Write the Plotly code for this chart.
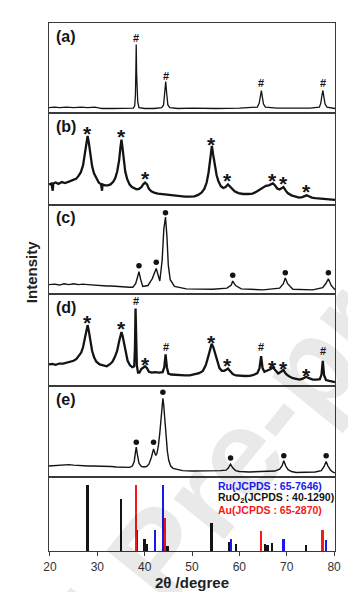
import plotly.graph_objects as go
from plotly.subplots import make_subplots

# ---------------- data (2theta in degree, intensity in % of panel height) ----------------
a_x = [19.8, 21, 22, 23.5, 25, 26.5, 28, 29.5, 30.5, 31, 33, 35, 36.5, 37.6, 37.9, 38.05, 38.15, 38.22, 38.3, 38.4, 38.55, 38.8,
       40, 42, 43.6, 44.0, 44.25, 44.45, 44.65, 44.9, 45.3, 47, 50, 55, 60, 63.8, 64.2, 64.45, 64.65, 64.85, 65.1, 65.5,
       68, 72, 75, 76.9, 77.2, 77.45, 77.65, 77.85, 78.1, 78.5, 80.2]
a_y = [6, 6.5, 6, 6.5, 6, 6.5, 6, 6.5, 5.5, 5, 5, 5.5, 5.5, 5.5, 8, 20, 48, 76, 45, 30, 12, 6,
       5, 5, 6, 9, 22, 35, 22, 9, 6, 5, 5.5, 5, 5.5, 6.5, 11, 20, 25, 18, 10, 6.5,
       5.5, 5.5, 5.5, 6.5, 11, 20, 25, 18, 10, 6.5, 5]
a_hash_x = [38.2, 44.45, 64.65, 77.65]
a_hash_y = [83, 41, 33.5, 33]

b_x = [19.8, 20.3, 20.6, 20.7, 21.2, 21.8, 22.5, 23.2, 24.0, 24.8, 25.5, 26.0, 26.5, 27.0, 27.4, 27.7, 27.95, 28.2, 28.5,
       28.9, 29.3, 29.8, 30.3, 30.8, 31.0, 31.1, 31.6, 32.2, 32.8, 33.4, 33.8, 34.2, 34.6, 34.9, 35.1, 35.3, 35.6, 35.9,
       36.3, 36.8, 37.3, 37.8, 38.3, 38.8, 39.3, 39.7, 40.1, 40.5, 40.9, 41.4, 42.0, 42.8, 43.6, 44.5, 45.5, 46.5, 47.5,
       48.5, 49.5, 50.5, 51.3, 52.0, 52.6, 53.1, 53.5, 53.8, 54.05, 54.2, 54.45, 54.8, 55.2, 55.6, 56.1, 56.6, 57.1, 57.6,
       58.0, 58.4, 59.0, 59.8, 60.8, 61.8, 62.8, 63.6, 64.3, 65.0, 65.6, 66.2, 66.8, 67.1, 67.5, 68.0, 68.5, 69.0, 69.3,
       69.7, 70.2, 71.0, 71.8, 72.6, 73.3, 73.8, 74.2, 74.7, 75.3, 76.0, 77.0, 78.0, 79.0, 80.2]
b_y = [22, 23, 15, 23, 24, 22.5, 24.5, 23.5, 25, 27, 28, 31, 35, 43, 55, 68, 75, 68, 55,
       42, 34, 28, 24, 22, 15, 22, 21, 21, 22, 25, 29, 36, 48, 63, 71, 63, 48, 36,
       28, 22, 19, 17.5, 16.5, 17, 19, 22, 24, 22, 17, 14.5, 13, 12, 11.5, 10.5, 10, 9.5, 9,
       8.5, 8.5, 9, 10.5, 13, 17, 24, 35, 48, 60, 64, 55, 42, 32, 25, 20, 18, 19, 22,
       20, 17, 14.5, 12.5, 11.5, 11.5, 12, 14, 16.5, 19, 20.5, 21, 22, 23, 21, 17.5, 16.5, 18, 19,
       16, 12.5, 10, 8.5, 7.5, 8, 9.5, 10, 9, 7.5, 7, 6.5, 6, 5.5, 5]
b_star_x = [27.95, 35.1, 40.1, 54.2, 57.6, 67.1, 69.3, 74.2]
b_star_y = [82.6, 80, 34.4, 71.5, 31.9, 31.5, 28, 19.6]

c_x = [19.8, 21, 22, 23, 24, 25, 26, 27, 28, 29, 30, 31, 32, 33, 34, 35, 36, 36.8, 37.5, 38.1, 38.5, 38.8, 39.1, 39.6,
       40.7, 41.6, 42.45, 42.9, 43.2, 43.7, 44.05, 44.4, 44.7, 45.0, 45.4, 46.3, 48.8, 54.4, 57.4, 58.3, 58.6, 59.2, 60.4,
       65.0, 68.5, 69.3, 69.7, 70.2, 71.3, 75.5, 77.6, 78.3, 78.8, 79.4, 80.2]
c_y = [10.5, 11, 10, 11.5, 10.5, 11.5, 10.5, 11, 10.5, 10, 10, 9.5, 9, 9, 8.5, 8, 7.5, 7.5, 7.6, 11.5, 19, 25, 17.5, 8.4,
       9.5, 17, 28.6, 19, 14.5, 38, 72.5, 86, 65, 32, 16, 8.4, 5.7, 5.3, 6.5, 10, 14.5, 9.5, 5.7,
       4.6, 6.5, 11.5, 18, 11.5, 5.3, 4.6, 7, 12, 17, 9.5, 4.6]
c_dot_x = [38.8, 42.45, 44.4, 58.6, 69.7, 78.8]
c_dot_y = [31.7, 35.5, 90.8, 21, 23.7, 23.7]

d_x = [19.8, 20.5, 21.2, 22.0, 22.8, 23.5, 24.3, 25.0, 25.6, 26.1, 26.6, 27.0, 27.4, 27.7, 27.95, 28.2, 28.5, 28.9, 29.3,
       29.8, 30.5, 31.2, 32.0, 32.6, 33.2, 33.7, 34.2, 34.6, 34.9, 35.1, 35.35, 35.7, 36.0, 36.4, 36.9, 37.4, 37.8, 37.95,
       38.08, 38.2, 38.35, 38.6, 38.9, 39.3, 39.7, 40.1, 40.5, 40.9, 41.5, 42.2, 43.0, 43.8, 44.15, 44.42, 44.7, 45.0,
       45.6, 46.5, 47.5, 48.5, 49.5, 50.5, 51.5, 52.3, 52.9, 53.4, 53.8, 54.15, 54.5, 54.9, 55.3, 55.8, 56.3, 56.8, 57.3,
       57.6, 58.0, 58.6, 59.3, 60.2, 61.2, 62.2, 63.0, 63.8, 64.25, 64.6, 64.9, 65.3, 65.8, 66.4, 67.1, 67.6, 68.2, 68.8,
       69.3, 69.8, 70.5, 71.3, 72.0, 72.7, 73.4, 74.1, 74.7, 75.5, 76.3, 77.0, 77.35, 77.62, 77.9, 78.3, 79.0, 79.6, 80.2]
d_y = [23, 23.5, 22.5, 24, 24, 25, 25.5, 27, 29, 32, 36, 42, 52, 61, 66, 60, 50, 38, 31,
       26, 23, 22, 21, 23, 26, 31, 38, 48, 56, 58.5, 54, 44, 34, 27, 22, 20, 21, 40,
       84, 50, 22, 14, 14, 18, 20, 21, 19, 15, 14, 14.5, 14, 14.5, 20, 34, 20, 13,
       12, 11.5, 11, 11, 11, 12, 13.5, 16, 22, 31, 40, 45.5, 42, 34, 26, 19, 16, 16, 17.5,
       18.5, 16, 12.5, 11, 10.5, 10.4, 10.5, 11.5, 13.5, 19, 32, 19, 15, 16, 17.5, 19.6, 16, 13, 15,
       17, 13, 10, 8, 7, 6.5, 7.5, 9.6, 8, 6.5, 6.5, 7, 12, 27, 11, 6, 5, 4.5, 3.7]
d_star_x = [27.95, 35.1, 40.1, 54.15, 57.6, 67.1, 69.3, 74.1]
d_star_y = [74, 67.8, 28.9, 53, 27, 25.2, 24, 16]
d_hash_x = [38.08, 44.42, 64.6, 77.62]
d_hash_y = [92.6, 41.9, 41.9, 38.1]

e_x = [19.8, 21, 22, 23, 24, 25, 26, 27, 28, 29, 30, 31, 32, 33, 34, 35, 36, 36.8, 37.4, 37.8, 38.05, 38.23, 38.45,
       38.8, 39.3, 39.8, 40.4, 40.9, 41.4, 41.65, 41.88, 42.1, 42.35, 42.6, 42.9, 43.2, 43.5, 43.75, 43.85, 44.0, 44.25,
       44.5, 44.8, 45.1, 45.5, 46.0, 47, 48, 50, 52, 54, 56, 57.2, 57.7, 58.14, 58.6, 59.2, 60, 62, 64, 66, 67.5, 68.5,
       69.0, 69.39, 69.8, 70.3, 71, 72, 74, 76, 77.3, 77.9, 78.33, 78.7, 79.2, 79.7, 80.2]
e_y = [12, 12.5, 13, 13.5, 13.5, 13, 12.5, 12.5, 12, 12, 12, 11.5, 11.5, 11.5, 11, 11, 10.5, 10.5, 12, 17, 27, 32.6, 25,
       15, 11.5, 11, 11.5, 14, 21, 28, 30.7, 27, 23.5, 26, 34, 48, 70, 84, 86, 80, 62,
       45, 28, 18, 12, 9.5, 8, 7, 6.5, 6.5, 6.5, 7, 7.5, 10, 14, 10, 7, 6, 5.5, 6, 6, 6.5, 8.5,
       12, 17.8, 12, 8, 6, 5, 5, 5.5, 7, 11.5, 17, 12, 8, 5.5, 4.5]
e_dot_x = [38.23, 41.88, 43.85, 58.14, 69.39, 78.33]
e_dot_y = [38, 38, 92.6, 20.7, 23.3, 23.3]

ruo2_pos = [28.0, 35.1, 40.0, 40.5, 44.9, 54.2, 57.9, 59.4, 65.5, 66.0, 67.0, 69.5, 74.1]
ruo2_int = [89.7, 70.4, 15.7, 9.9, 6.7, 38, 12.6, 10, 9, 8, 11, 10, 8]
ru_pos = [38.4, 42.2, 44.0, 58.3, 69.4, 78.4]
ru_int = [28, 28, 89.7, 15.7, 15.7, 15]
au_pos = [38.2, 44.4, 64.6, 77.6]
au_int = [89.7, 45, 27, 28]

panel_labels = ["(a)", "(b)", "(c)", "(d)", "(e)"]
legend_texts = ["Ru(JCPDS : 65-7646)", "RuO<sub>2</sub>(JCPDS : 40-1290)", "Au(JCPDS : 65-2870)"]
x_ticks = [20, 30, 40, 50, 60, 70, 80]

# ---------------- figure ----------------
FONT = "Liberation Sans, Arial, sans-serif"
BLUE = "rgb(25,25,235)"
RED = "rgb(245,25,25)"
BLACK = "rgb(20,20,20)"

fig = make_subplots(rows=6, cols=1, shared_xaxes=True, vertical_spacing=0,
                    row_heights=[90, 91.5, 89.5, 91.5, 91.5, 74])

# watermark (faint)
fig.add_annotation(x=0.381, y=-0.004, xref="paper", yref="paper", text="<b>Journal Pre-proof</b>",
                   textangle=-51, showarrow=False, xanchor="center", yanchor="middle",
                   font=dict(family=FONT, size=123, color="rgba(0,0,0,0.085)"))

curves = [(a_x, a_y, 1.3), (b_x, b_y, 2.3), (c_x, c_y, 1.4), (d_x, d_y, 2.3), (e_x, e_y, 1.4)]
for i, (xs, ys, w) in enumerate(curves, start=1):
    fig.add_trace(go.Scatter(x=xs, y=ys, mode="lines", line=dict(color=BLACK, width=w),
                             showlegend=False, hoverinfo="skip"), row=i, col=1)

for row, (xs, ys) in [(3, (c_dot_x, c_dot_y)), (5, (e_dot_x, e_dot_y))]:
    fig.add_trace(go.Scatter(x=xs, y=ys, mode="markers", marker=dict(color=BLACK, size=5.5),
                             showlegend=False, hoverinfo="skip"), row=row, col=1)

for pos, inten, col in [(ruo2_pos, ruo2_int, BLACK), (ru_pos, ru_int, BLUE), (au_pos, au_int, RED)]:
    fig.add_trace(go.Bar(x=pos, y=inten, width=0.38, marker=dict(color=col, line=dict(width=0)),
                         showlegend=False, hoverinfo="skip"), row=6, col=1)

def axref(row):
    return ("x" if row == 1 else f"x{row}"), ("y" if row == 1 else f"y{row}")

for row, xs, ys in [(1, a_hash_x, a_hash_y), (4, d_hash_x, d_hash_y)]:
    xr, yr = axref(row)
    for x, y in zip(xs, ys):
        fig.add_annotation(x=x, y=y, xref=xr, yref=yr, text="<b>#</b>", showarrow=False,
                           xanchor="center", yanchor="middle",
                           font=dict(family=FONT, size=11, color=BLACK))

for row, xs, ys in [(2, b_star_x, b_star_y), (4, d_star_x, d_star_y)]:
    xr, yr = axref(row)
    for x, y in zip(xs, ys):
        fig.add_annotation(x=x, y=y, xref=xr, yref=yr, text="<b>*</b>", showarrow=False,
                           xanchor="center", yanchor="middle", yshift=-5,
                           font=dict(family=FONT, size=21, color=BLACK))

for row, lab in enumerate(panel_labels, start=1):
    xr, yr = axref(row)
    fig.add_annotation(x=0.018, y=0.85, xref=xr + " domain", yref=yr + " domain", text=f"<b>{lab}</b>",
                       showarrow=False, xanchor="left", yanchor="middle",
                       font=dict(family=FONT, size=16, color=BLACK))

for txt, col, yp in zip(legend_texts, [BLUE, BLACK, RED], [0.1237, 0.1004, 0.0782]):
    fig.add_annotation(x=0.584, y=yp, xref="paper", yref="paper", text=f"<b>{txt}</b>",
                       showarrow=False, xanchor="left", yanchor="middle",
                       font=dict(family=FONT, size=10.5, color=col))

fig.add_annotation(x=-0.063, y=0.528, xref="paper", yref="paper", text="<b>Intensity</b>",
                   textangle=-90, showarrow=False, xanchor="center", yanchor="middle",
                   font=dict(family=FONT, size=15, color="#222"))
fig.add_annotation(x=0.5, y=-0.0606, xref="paper", yref="paper", text="<b>2θ /degree</b>",
                   showarrow=False, xanchor="center", yanchor="middle",
                   font=dict(family=FONT, size=15, color="#222"))

for row in range(1, 7):
    fig.update_xaxes(range=[19.8, 80.2], showline=True, mirror=True, linecolor="#3a3a3a", linewidth=1.2,
                     showgrid=False, zeroline=False, ticks="", showticklabels=False, row=row, col=1)
    fig.update_yaxes(range=[0, 100], showline=True, mirror=True, linecolor="#3a3a3a", linewidth=1.2,
                     showgrid=False, zeroline=False, ticks="", showticklabels=False, row=row, col=1)

fig.update_xaxes(ticks="outside", ticklen=4, tickwidth=1, tickcolor="#3a3a3a", tickvals=x_ticks,
                 showticklabels=True, tickfont=dict(family=FONT, size=12, color="#333"), row=6, col=1)

fig.update_layout(width=356, height=592, margin=dict(l=41, r=29, t=15, b=49),
                  plot_bgcolor="rgba(0,0,0,0)", paper_bgcolor="white", barmode="overlay", bargap=0,
                  showlegend=False)

fig.write_html("out.html")
